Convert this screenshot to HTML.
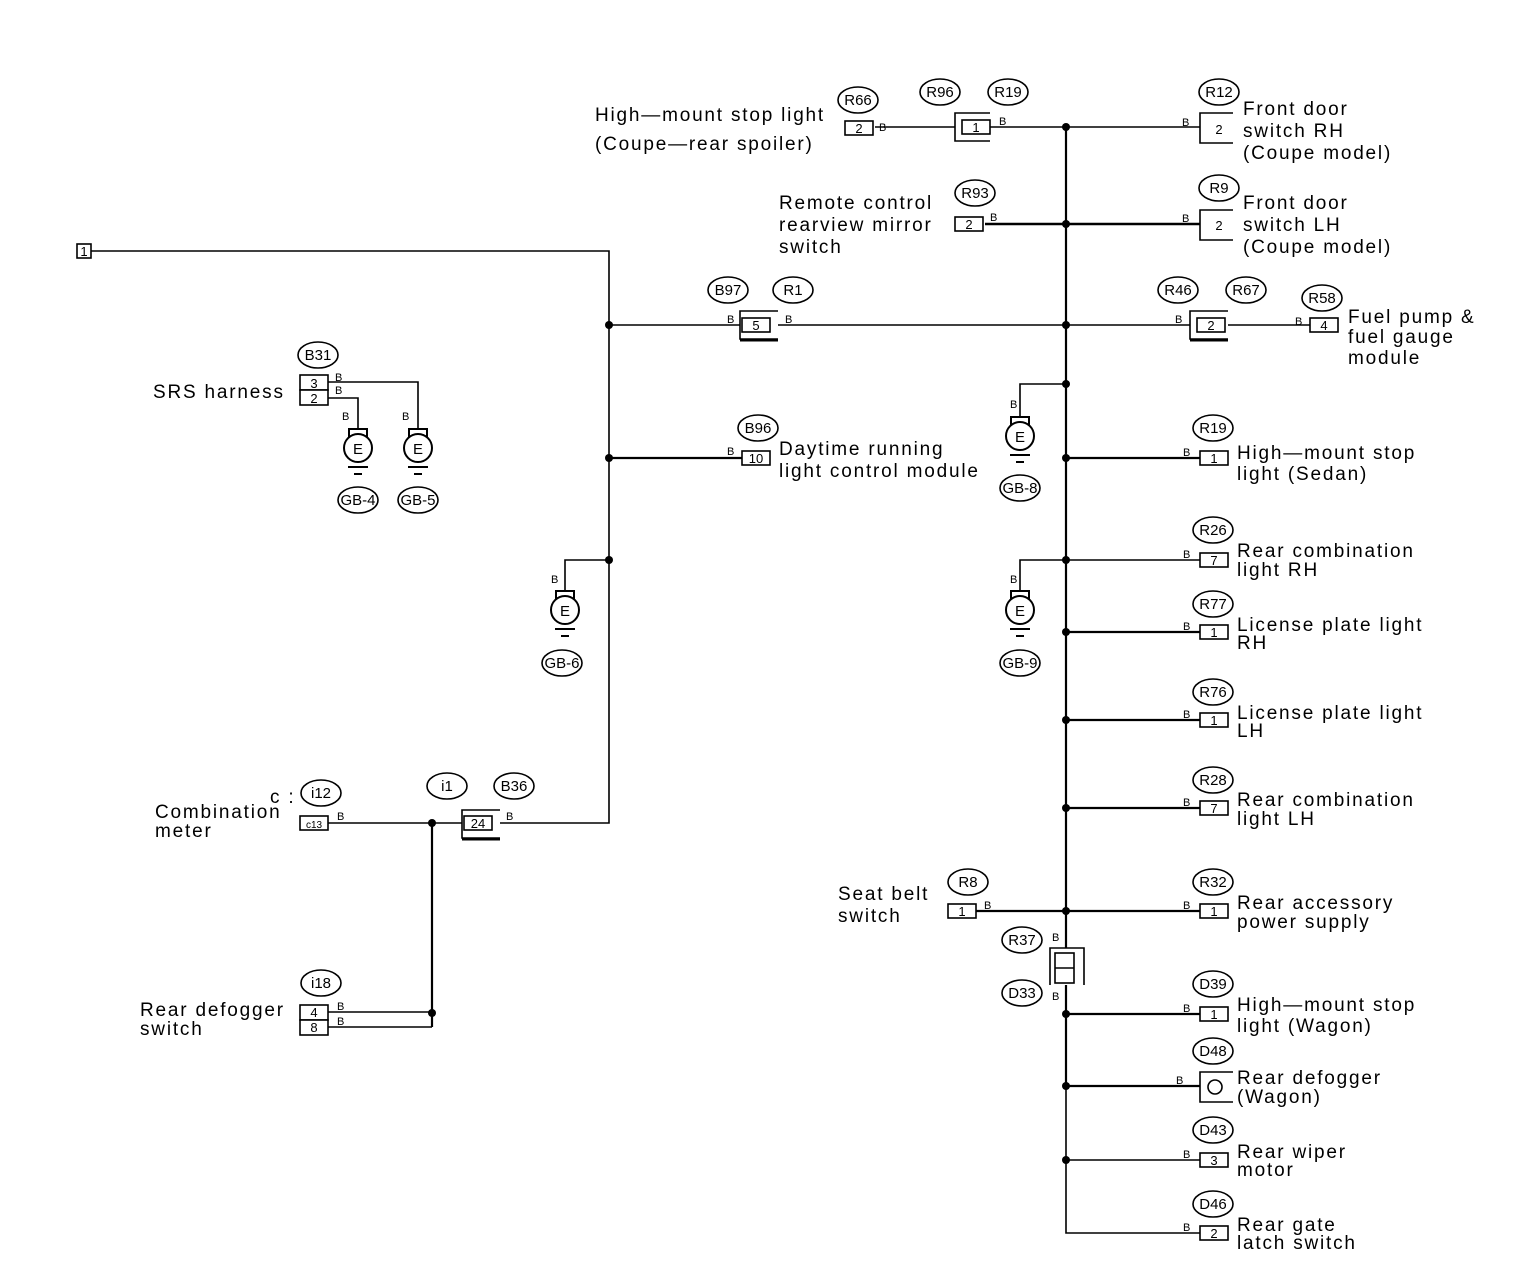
<!DOCTYPE html>
<html><head><meta charset="utf-8"><style>
html,body{margin:0;padding:0;background:#fff}
svg{display:block}
text{font-family:"Liberation Sans",sans-serif;fill:#000}
.l{font-size:19px;letter-spacing:1.8px}
.o{font-size:15px}
.b{font-size:11px}
.c{font-size:13px}
</style></head><body>
<svg width="1520" height="1266" viewBox="0 0 1520 1266" xmlns="http://www.w3.org/2000/svg">
<defs>
<g id="gnd">
<rect x="-9" y="-19" width="18" height="9" fill="#fff" stroke="#000" stroke-width="2"/>
<circle cx="0" cy="0" r="14" fill="#fff" stroke="#000" stroke-width="2"/>
<text x="0" y="6" text-anchor="middle" class="o">E</text>
<line x1="-10" y1="19" x2="10" y2="19" stroke="#000" stroke-width="2"/>
<line x1="-4" y1="26" x2="4" y2="26" stroke="#000" stroke-width="2"/>
</g>
<g id="ov"><ellipse cx="0" cy="0" rx="20" ry="13" fill="#fff" stroke="#000" stroke-width="1.6"/></g>
</defs>
<g stroke="#000" stroke-width="1.6" fill="none">
<polyline points="91,251 609,251 609,823 500,823"/>
<line x1="609" y1="325" x2="740" y2="325"/>
<line x1="778" y1="325" x2="1190" y2="325"/>
<line x1="1228" y1="325" x2="1310" y2="325"/>
<line x1="609" y1="458" x2="742" y2="458" stroke-width="2.2"/>
<polyline points="609,560 565,560 565,590"/>
<line x1="1066" y1="127" x2="1066" y2="948" stroke-width="2.2"/>
<line x1="1066" y1="985" x2="1066" y2="1086" stroke-width="2.2"/>
<polyline points="1066,1086 1066,1233 1200,1233"/>
<line x1="875" y1="127" x2="955" y2="127"/>
<line x1="990" y1="127" x2="1200" y2="127"/>
<line x1="985" y1="224" x2="1200" y2="224" stroke-width="2.6"/>
<polyline points="1066,384 1020,384 1020,416"/>
<polyline points="1066,560 1020,560 1020,590"/>
<line x1="1066" y1="458" x2="1200" y2="458" stroke-width="2.2"/>
<line x1="1066" y1="560" x2="1200" y2="560"/>
<line x1="1066" y1="632" x2="1200" y2="632" stroke-width="2.2"/>
<line x1="1066" y1="720" x2="1200" y2="720" stroke-width="2.2"/>
<line x1="1066" y1="808" x2="1200" y2="808" stroke-width="2.2"/>
<line x1="976" y1="911" x2="1200" y2="911" stroke-width="2.2"/>
<line x1="1066" y1="1014" x2="1200" y2="1014" stroke-width="2.2"/>
<line x1="1066" y1="1086" x2="1200" y2="1086" stroke-width="2.2"/>
<line x1="1066" y1="1160" x2="1200" y2="1160"/>
<polyline points="328,382 418,382 418,428"/>
<polyline points="328,398 358,398 358,428"/>
<line x1="328" y1="823" x2="462" y2="823"/>
<line x1="432" y1="823" x2="432" y2="1027" stroke-width="2.2"/>
<line x1="328" y1="1012" x2="432" y2="1012"/>
<line x1="328" y1="1027" x2="432" y2="1027"/>
</g>
<g fill="#000">
<circle cx="609" cy="325" r="4"/><circle cx="609" cy="458" r="4"/><circle cx="609" cy="560" r="4"/>
<circle cx="1066" cy="127" r="4"/><circle cx="1066" cy="224" r="4"/><circle cx="1066" cy="325" r="4"/>
<circle cx="1066" cy="384" r="4"/><circle cx="1066" cy="458" r="4"/><circle cx="1066" cy="560" r="4"/>
<circle cx="1066" cy="632" r="4"/><circle cx="1066" cy="720" r="4"/><circle cx="1066" cy="808" r="4"/>
<circle cx="1066" cy="911" r="4"/><circle cx="1066" cy="1014" r="4"/><circle cx="1066" cy="1086" r="4"/>
<circle cx="1066" cy="1160" r="4"/><circle cx="432" cy="823" r="4"/><circle cx="432" cy="1013" r="4"/>
</g>
<g fill="#fff" stroke="#000" stroke-width="1.6">
<rect x="77" y="244" width="14" height="14"/>
<rect x="845" y="121" width="28" height="14"/>
<polyline points="990,113 955,113 955,141 990,141" fill="none"/>
<rect x="962" y="120" width="28" height="14"/>
<polyline points="1233,113 1200,113 1200,143 1233,143" fill="none"/>
<polyline points="1233,210 1200,210 1200,240 1233,240" fill="none"/>
<rect x="955" y="217" width="28" height="14"/>
<polyline points="778,311 740,311 740,339 778,339" fill="none"/>
<rect x="742" y="318" width="28" height="14"/>
<line x1="740" y1="340" x2="778" y2="340" stroke-width="3"/>
<polyline points="1228,311 1190,311 1190,339 1228,339" fill="none"/>
<rect x="1197" y="318" width="28" height="14"/>
<line x1="1190" y1="340" x2="1228" y2="340" stroke-width="3"/>
<rect x="1310" y="318" width="28" height="14"/>
<rect x="300" y="375" width="28" height="15"/><rect x="300" y="390" width="28" height="15"/>
<rect x="742" y="451" width="28" height="14"/>
<rect x="1200" y="451" width="28" height="14"/>
<rect x="1200" y="553" width="28" height="14"/>
<rect x="1200" y="625" width="28" height="14"/>
<rect x="1200" y="713" width="28" height="14"/>
<rect x="1200" y="801" width="28" height="14"/>
<rect x="948" y="904" width="28" height="14"/>
<rect x="1200" y="904" width="28" height="14"/>
<rect x="1200" y="1007" width="28" height="14"/>
<polyline points="1233,1072 1200,1072 1200,1102 1233,1102" fill="none"/>
<circle cx="1215" cy="1087" r="7"/>
<rect x="1200" y="1153" width="28" height="14"/>
<rect x="1200" y="1226" width="28" height="14"/>
<polyline points="1050,985 1050,948 1084,948 1084,985" fill="none"/>
<rect x="1055" y="953" width="19" height="30"/>
<line x1="1055" y1="968" x2="1074" y2="968"/>
<polyline points="500,810 462,810 462,838 500,838" fill="none"/>
<rect x="464" y="816" width="28" height="14"/>
<line x1="462" y1="839" x2="500" y2="839" stroke-width="3"/>
<rect x="300" y="816" width="28" height="14"/>
<rect x="300" y="1005" width="28" height="15"/><rect x="300" y="1020" width="28" height="15"/>
</g>
<g class="c" text-anchor="middle">
<text x="84" y="256">1</text>
<text x="859" y="133">2</text><text x="976" y="132">1</text><text x="1219" y="134">2</text>
<text x="969" y="229">2</text><text x="1219" y="230">2</text>
<text x="756" y="330">5</text><text x="1211" y="330">2</text><text x="1324" y="330">4</text>
<text x="314" y="388">3</text><text x="314" y="403">2</text>
<text x="756" y="463">10</text>
<text x="1214" y="463">1</text><text x="1214" y="565">7</text><text x="1214" y="637">1</text>
<text x="1214" y="725">1</text><text x="1214" y="813">7</text><text x="962" y="916">1</text>
<text x="1214" y="916">1</text><text x="1214" y="1019">1</text><text x="1214" y="1165">3</text>
<text x="1214" y="1238">2</text>
<text x="478" y="828">24</text><text x="314" y="828" style="font-size:10px">c13</text>
<text x="314" y="1017">4</text><text x="314" y="1032">8</text>
</g>
<g class="b">
<text x="879" y="131">B</text><text x="999" y="125">B</text><text x="1182" y="126">B</text>
<text x="990" y="221">B</text><text x="1182" y="222">B</text>
<text x="727" y="323">B</text><text x="785" y="323">B</text><text x="1175" y="323">B</text><text x="1295" y="325">B</text>
<text x="335" y="381">B</text><text x="335" y="394">B</text>
<text x="342" y="420">B</text><text x="402" y="420">B</text>
<text x="727" y="455">B</text><text x="551" y="583">B</text>
<text x="1010" y="408">B</text><text x="1010" y="583">B</text>
<text x="1183" y="456">B</text><text x="1183" y="558">B</text><text x="1183" y="630">B</text>
<text x="1183" y="718">B</text><text x="1183" y="806">B</text><text x="984" y="909">B</text>
<text x="1183" y="909">B</text><text x="1052" y="941">B</text><text x="1052" y="1000">B</text>
<text x="1183" y="1012">B</text><text x="1176" y="1084">B</text><text x="1183" y="1158">B</text>
<text x="1183" y="1231">B</text>
<text x="337" y="820">B</text><text x="506" y="820">B</text>
<text x="337" y="1010">B</text><text x="337" y="1025">B</text>
</g>
<use href="#gnd" x="358" y="448"/><use href="#gnd" x="418" y="448"/>
<use href="#gnd" x="565" y="610"/><use href="#gnd" x="1020" y="436"/><use href="#gnd" x="1020" y="610"/>
<g>
<use href="#ov" x="858" y="100"/><use href="#ov" x="940" y="92"/><use href="#ov" x="1008" y="92"/>
<use href="#ov" x="1219" y="92"/><use href="#ov" x="975" y="193"/><use href="#ov" x="1219" y="188"/>
<use href="#ov" x="728" y="290"/><use href="#ov" x="793" y="290"/><use href="#ov" x="1178" y="290"/>
<use href="#ov" x="1246" y="290"/><use href="#ov" x="1322" y="298"/><use href="#ov" x="318" y="355"/>
<use href="#ov" x="358" y="500"/><use href="#ov" x="418" y="500"/><use href="#ov" x="758" y="428"/>
<use href="#ov" x="562" y="663"/><use href="#ov" x="1020" y="488"/><use href="#ov" x="1020" y="663"/>
<use href="#ov" x="1213" y="428"/><use href="#ov" x="1213" y="530"/><use href="#ov" x="1213" y="604"/>
<use href="#ov" x="1213" y="692"/><use href="#ov" x="1213" y="780"/><use href="#ov" x="968" y="882"/>
<use href="#ov" x="1213" y="882"/><use href="#ov" x="1022" y="940"/><use href="#ov" x="1022" y="993"/>
<use href="#ov" x="1213" y="984"/><use href="#ov" x="1213" y="1051"/><use href="#ov" x="1213" y="1130"/>
<use href="#ov" x="1213" y="1204"/><use href="#ov" x="321" y="793"/><use href="#ov" x="447" y="786"/>
<use href="#ov" x="514" y="786"/><use href="#ov" x="321" y="983"/>
</g>
<g class="o" text-anchor="middle">
<text x="858" y="105">R66</text><text x="940" y="97">R96</text><text x="1008" y="97">R19</text>
<text x="1219" y="97">R12</text><text x="975" y="198">R93</text><text x="1219" y="193">R9</text>
<text x="728" y="295">B97</text><text x="793" y="295">R1</text><text x="1178" y="295">R46</text>
<text x="1246" y="295">R67</text><text x="1322" y="303">R58</text><text x="318" y="360">B31</text>
<text x="358" y="505">GB-4</text><text x="418" y="505">GB-5</text><text x="758" y="433">B96</text>
<text x="562" y="668">GB-6</text><text x="1020" y="493">GB-8</text><text x="1020" y="668">GB-9</text>
<text x="1213" y="433">R19</text><text x="1213" y="535">R26</text><text x="1213" y="609">R77</text>
<text x="1213" y="697">R76</text><text x="1213" y="785">R28</text><text x="968" y="887">R8</text>
<text x="1213" y="887">R32</text><text x="1022" y="945">R37</text><text x="1022" y="998">D33</text>
<text x="1213" y="989">D39</text><text x="1213" y="1056">D48</text><text x="1213" y="1135">D43</text>
<text x="1213" y="1209">D46</text><text x="321" y="798">i12</text><text x="447" y="791">i1</text>
<text x="514" y="791">B36</text><text x="321" y="988">i18</text>
</g>
<g class="l">
<text x="595" y="121">High—mount stop light</text>
<text x="595" y="150">(Coupe—rear spoiler)</text>
<text x="1243" y="115">Front door</text><text x="1243" y="137">switch RH</text><text x="1243" y="159">(Coupe model)</text>
<text x="1243" y="209">Front door</text><text x="1243" y="231">switch LH</text><text x="1243" y="253">(Coupe model)</text>
<text x="779" y="209">Remote control</text><text x="779" y="231">rearview mirror</text><text x="779" y="253">switch</text>
<text x="1348" y="323">Fuel pump &amp;</text><text x="1348" y="343">fuel gauge</text><text x="1348" y="364">module</text>
<text x="153" y="398">SRS harness</text>
<text x="779" y="455">Daytime running</text><text x="779" y="477">light control module</text>
<text x="1237" y="459">High—mount stop</text><text x="1237" y="480">light (Sedan)</text>
<text x="1237" y="557">Rear combination</text><text x="1237" y="576">light RH</text>
<text x="1237" y="631">License plate light</text><text x="1237" y="649">RH</text>
<text x="1237" y="719">License plate light</text><text x="1237" y="737">LH</text>
<text x="1237" y="806">Rear combination</text><text x="1237" y="825">light LH</text>
<text x="838" y="900">Seat belt</text><text x="838" y="922">switch</text>
<text x="1237" y="909">Rear accessory</text><text x="1237" y="928">power supply</text>
<text x="1237" y="1011">High—mount stop</text><text x="1237" y="1032">light (Wagon)</text>
<text x="1237" y="1084">Rear defogger</text><text x="1237" y="1103">(Wagon)</text>
<text x="1237" y="1158">Rear wiper</text><text x="1237" y="1176">motor</text>
<text x="1237" y="1231">Rear gate</text><text x="1237" y="1249">latch switch</text>
<text x="270" y="803">c :</text><text x="155" y="818">Combination</text><text x="155" y="837">meter</text>
<text x="140" y="1016">Rear defogger</text><text x="140" y="1035">switch</text>
</g>
</svg>
</body></html>
